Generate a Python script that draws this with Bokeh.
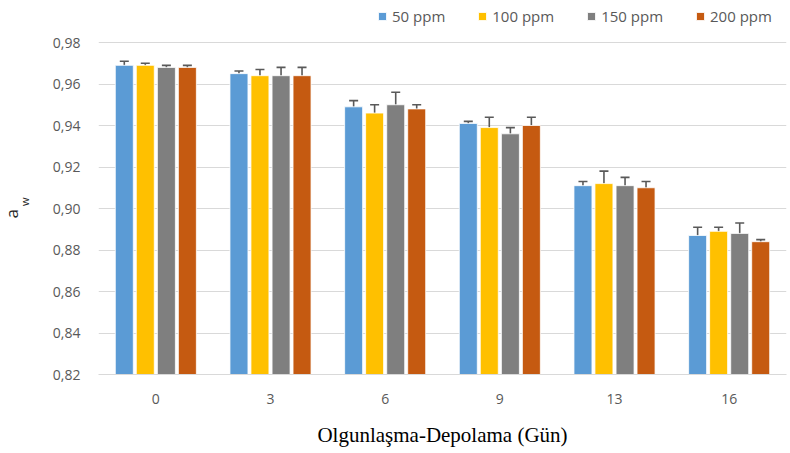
from bokeh.plotting import figure
from bokeh.models import (ColumnDataSource, FactorRange, Range1d, Whisker, TeeHead,
                          Legend, LegendItem, Title, CustomJSTickFormatter, FixedTicker)
from bokeh.transform import dodge
from bokeh.embed import file_html
from bokeh.resources import INLINE

days = ["0", "3", "6", "9", "13", "16"]
series = ["50 ppm", "100 ppm", "150 ppm", "200 ppm"]
colors = ["#5B9BD5", "#FFC000", "#7F7F7F", "#C55A11"]

v50 = [0.969, 0.965, 0.949, 0.941, 0.911, 0.887]
v100 = [0.969, 0.964, 0.946, 0.939, 0.912, 0.889]
v150 = [0.968, 0.964, 0.950, 0.936, 0.911, 0.888]
v200 = [0.968, 0.964, 0.948, 0.940, 0.910, 0.884]

e50 = [0.002, 0.0013, 0.003, 0.001, 0.002, 0.004]
e100 = [0.001, 0.003, 0.004, 0.005, 0.006, 0.002]
e150 = [0.001, 0.004, 0.006, 0.003, 0.004, 0.005]
e200 = [0.001, 0.004, 0.002, 0.004, 0.003, 0.001]

y_ticks = [0.82, 0.84, 0.86, 0.88, 0.90, 0.92, 0.94, 0.96, 0.98]

values = [v50, v100, v150, v200]
errors = [e50, e100, e150, e200]
offsets = [-0.275, -0.092, 0.092, 0.275]

# frame extends to the top of the canvas so the legend can sit above the 0,98 line
y_end = 0.98 + 0.16 * 42 / 332

p = figure(x_range=FactorRange(*days), y_range=Range1d(0.82, y_end),
           width=790, height=453, output_backend="svg", toolbar_location=None,
           min_border_left=98, min_border_right=4, min_border_top=0, min_border_bottom=79)
p.outline_line_color = None

items = []
for vals, errs, off, col, name in zip(values, errors, offsets, colors, series):
    src = ColumnDataSource(dict(day=days, v=vals,
                                up=[a + b for a, b in zip(vals, errs)],
                                lo=[a - b for a, b in zip(vals, errs)]))
    r = p.vbar(x=dodge("day", off, range=p.x_range), top="v", bottom=0.82, width=0.157,
               source=src, fill_color=col, line_color="white", line_width=0.8)
    w = Whisker(base=dodge("day", off, range=p.x_range), upper="up", lower="lo", source=src,
                line_color="#595959", line_width=1.6,
                upper_head=TeeHead(size=9, line_color="#595959", line_width=1.6),
                lower_head=TeeHead(size=9, line_color="#595959", line_width=1.6))
    p.add_layout(w)
    items.append(LegendItem(label=name, renderers=[r]))

legend = Legend(items=items, orientation="horizontal", location=(279, 348),
                glyph_width=10, glyph_height=10, label_standoff=5, spacing=32,
                label_text_font="Open Sans", label_text_font_size="15px",
                label_text_color="#595959", border_line_color=None,
                padding=0, margin=0, background_fill_alpha=0)
p.add_layout(legend)

p.yaxis.ticker = FixedTicker(ticks=y_ticks)
p.yaxis.formatter = CustomJSTickFormatter(code="return tick.toFixed(2).replace('.', ',');")
p.yaxis.axis_line_color = None
p.yaxis.major_tick_line_color = None
p.yaxis.minor_tick_line_color = None
p.yaxis.major_label_text_font = "Open Sans"
p.yaxis.major_label_text_font_size = "14px"
p.yaxis.major_label_text_color = "#595959"
p.yaxis.major_label_standoff = 12
# subscript "w" of the a_w label, padded so it sits below the axis centre
p.yaxis.axis_label = "w" + "\u00a0" * 10
p.yaxis.axis_label_text_font = "Open Sans"
p.yaxis.axis_label_text_font_size = "11px"
p.yaxis.axis_label_text_font_style = "normal"
p.yaxis.axis_label_text_color = "#262626"
p.yaxis.axis_label_standoff = 18

p.xaxis.axis_line_color = "#D9D9D9"
p.xaxis.axis_line_width = 1
p.xaxis.major_tick_line_color = None
p.xaxis.minor_tick_line_color = None
p.xaxis.major_label_text_font = "Open Sans"
p.xaxis.major_label_text_font_size = "14px"
p.xaxis.major_label_text_color = "#595959"
p.xaxis.major_label_standoff = 13
p.xaxis.axis_label = "Olgunlaşma-Depolama (Gün)"
p.xaxis.axis_label_text_font = "Liberation Serif"
p.xaxis.axis_label_text_font_size = "21px"
p.xaxis.axis_label_text_font_style = "normal"
p.xaxis.axis_label_text_color = "#000000"
p.xaxis.axis_label_standoff = 16

p.xgrid.grid_line_color = None
p.ygrid.grid_line_color = "#D9D9D9"
p.ygrid.grid_line_width = 1

# main letter "a" of the a_w label, as an outer left-side title
p.add_layout(Title(text="a", align="left", offset=156, standoff=-19,
                   text_font="Open Sans", text_font_size="17px", text_font_style="normal",
                   text_color="#262626"), "left")

open("out.html", "w").write(file_html(p, INLINE))
